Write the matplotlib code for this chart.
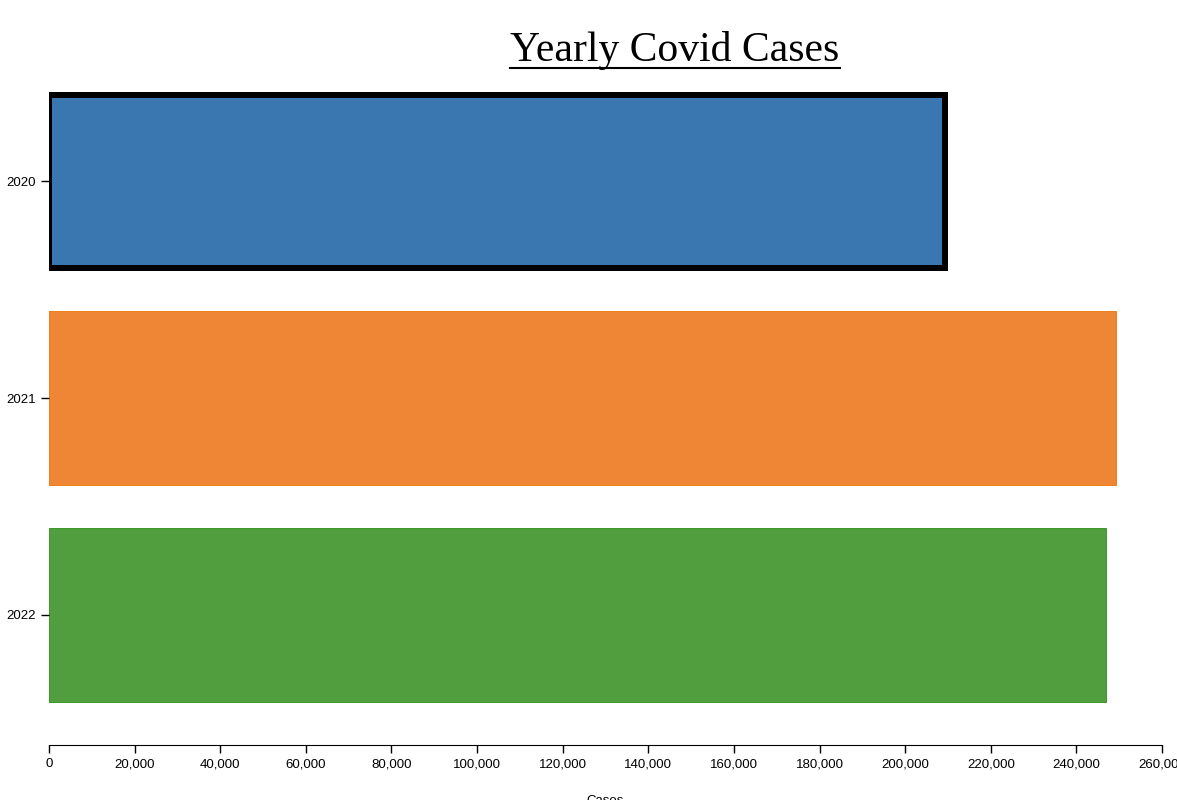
import matplotlib.pyplot as plt
from matplotlib.lines import Line2D
from matplotlib.ticker import FuncFormatter

years = ["2020", "2021", "2022"]
cases = [209300, 249300, 246900]
colors = ["#3a76af", "#ef8636", "#519e3e"]
edges = ["black", "#ef7f1a", "#3e9b2a"]
widths = [6, 1, 1]

plt.rcParams["font.family"] = ["Liberation Sans", "DejaVu Sans"]

W, H = 1177, 800
fig = plt.figure(figsize=(W / 100, H / 100), dpi=100)
ax = fig.add_axes([49 / W, 55 / H, (1162 - 49) / W, (745 - 73) / H])

pos = list(range(len(years)))
for i in pos:
    ax.barh(i, cases[i], height=0.8, color=colors[i], edgecolor=edges[i], linewidth=widths[i] * 0.72)

ax.set_ylim(2.6, -0.5)
ax.set_xlim(0, 260000)
ax.set_yticks(pos)
ax.set_yticklabels(years)
ax.set_xticks(range(0, 260001, 20000))
ax.xaxis.set_major_formatter(FuncFormatter(lambda v, p: f"{int(v):,}"))
ax.tick_params(labelsize=9.5, length=6, width=1)
for s in ["top", "right", "left"]:
    ax.spines[s].set_visible(False)
ax.set_xlabel("Cases", fontsize=9.5, labelpad=18)

title = fig.text(675 / W, 1 - 50 / H, "Yearly Covid Cases", ha="center", va="center",
                 family="Liberation Serif", fontsize=30)
fig.canvas.draw()
bb = title.get_window_extent().transformed(fig.transFigure.inverted())
uy = 1 - 68 / H
fig.add_artist(Line2D([bb.x0, bb.x1], [uy, uy], color="black", linewidth=1.5, transform=fig.transFigure))

fig.savefig("out.png", dpi=100)
